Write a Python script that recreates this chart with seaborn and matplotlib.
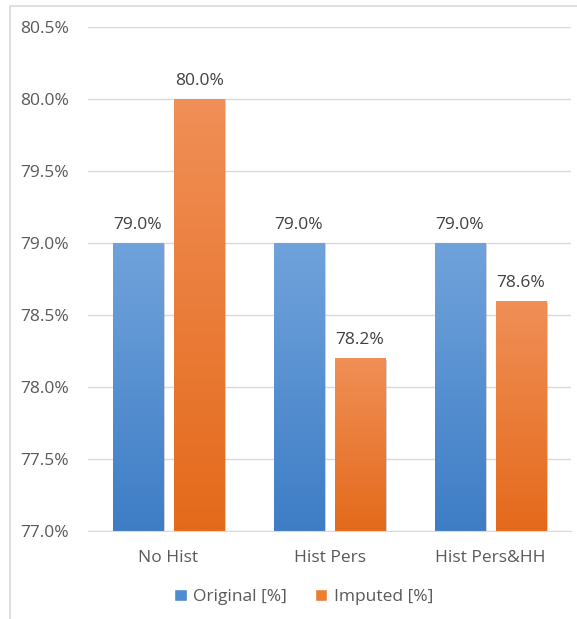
import numpy as np
import pandas as pd
import matplotlib
matplotlib.use("Agg")
import matplotlib.pyplot as plt
import matplotlib.patheffects as pe
from matplotlib.patches import Rectangle
from matplotlib.colors import LinearSegmentedColormap
import seaborn as sns

categories = ["No Hist", "Hist Pers", "Hist Pers&HH"]
original = [79.0, 79.0, 79.0]
imputed = [80.0, 78.2, 78.6]
series_names = ["Original [%]", "Imputed [%]"]
yticks = [77.0, 77.5, 78.0, 78.5, 79.0, 79.5, 80.0, 80.5]

df = pd.DataFrame({
    "cat": categories * 2,
    "val": original + imputed,
    "series": [series_names[0]] * 3 + [series_names[1]] * 3,
})

sns.set_style("white")
plt.rcParams["font.family"] = ["Open Sans", "DejaVu Sans"]

blue_top, blue_bot = "#70a3dc", "#3e7dc5"
orange_top, orange_bot = "#f08f57", "#e46a1b"
palette = {series_names[0]: "#4f8bd0", series_names[1]: "#ec7d31"}

fig = plt.figure(figsize=(5.77, 6.19), dpi=100)
ax = fig.add_axes([88 / 577, 1 - 531 / 619, (571 - 88) / 577, (531 - 27) / 619])

sns.barplot(data=df, x="cat", y="val", hue="series", palette=palette,
            width=0.76, gap=0.18, ax=ax, legend=False, saturation=1,
            linewidth=0, errorbar=None)

ymin, ymax = 77.0, 80.5
ax.set_ylim(ymin, ymax)
ax.set_xlim(-0.5, 2.5)

grad = np.linspace(1, 0, 256).reshape(-1, 1)
cmaps = [LinearSegmentedColormap.from_list("b", [blue_bot, blue_top]),
         LinearSegmentedColormap.from_list("o", [orange_bot, orange_top])]
bars = [p for p in ax.patches if isinstance(p, Rectangle)]
for i, p in enumerate(bars):
    s = i // 3
    x0 = p.get_x()
    w = p.get_width()
    top = p.get_y() + p.get_height()
    p.set_path_effects([pe.SimplePatchShadow(offset=(1.5, -1), shadow_rgbFace="#808080", alpha=0.35), pe.Normal()])
    im = ax.imshow(grad, cmap=cmaps[s], extent=[x0, x0 + w, ymin, top],
                   aspect="auto", zorder=p.get_zorder() + 0.1, vmin=0, vmax=1)
    im.set_clip_path(p)
    ax.text(x0 + w / 2, top + 0.07, f"{top:.1f}%", ha="center", va="bottom",
            fontsize=12.5, color="#404040")

ax.set_xlim(-0.5, 2.5)
ax.set_ylim(ymin, ymax)
ax.set_yticks(yticks)
ax.set_yticklabels([f"{t:.1f}%" for t in yticks])
ax.yaxis.grid(True, color="#d9d9d9", linewidth=1)
ax.set_axisbelow(True)
for sp in ["left", "right", "top"]:
    ax.spines[sp].set_visible(False)
ax.spines["bottom"].set_color("#d9d9d9")
ax.tick_params(axis="y", length=0, pad=14, labelsize=12.5, labelcolor="#595959")
ax.tick_params(axis="x", length=0, pad=14, labelsize=12.5, labelcolor="#595959")
ax.set_xlabel("")
ax.set_ylabel("")

handles = [Rectangle((0, 0), 1, 1, facecolor=palette[n]) for n in series_names]
fig.legend(handles, series_names, loc="center", bbox_to_anchor=(304 / 577, 1 - 597 / 619),
           ncol=2, frameon=False, fontsize=12.5, labelcolor="#595959",
           handlelength=0.7, handleheight=0.7, handletextpad=0.4, columnspacing=1.6)

fig.patches.append(Rectangle((10 / 577, -0.1), 1.2, 1 - 6 / 619 + 0.1, transform=fig.transFigure,
                             fill=False, edgecolor="#d9d9d9", linewidth=1.2))

fig.savefig("out.png", dpi=100, facecolor="white")
